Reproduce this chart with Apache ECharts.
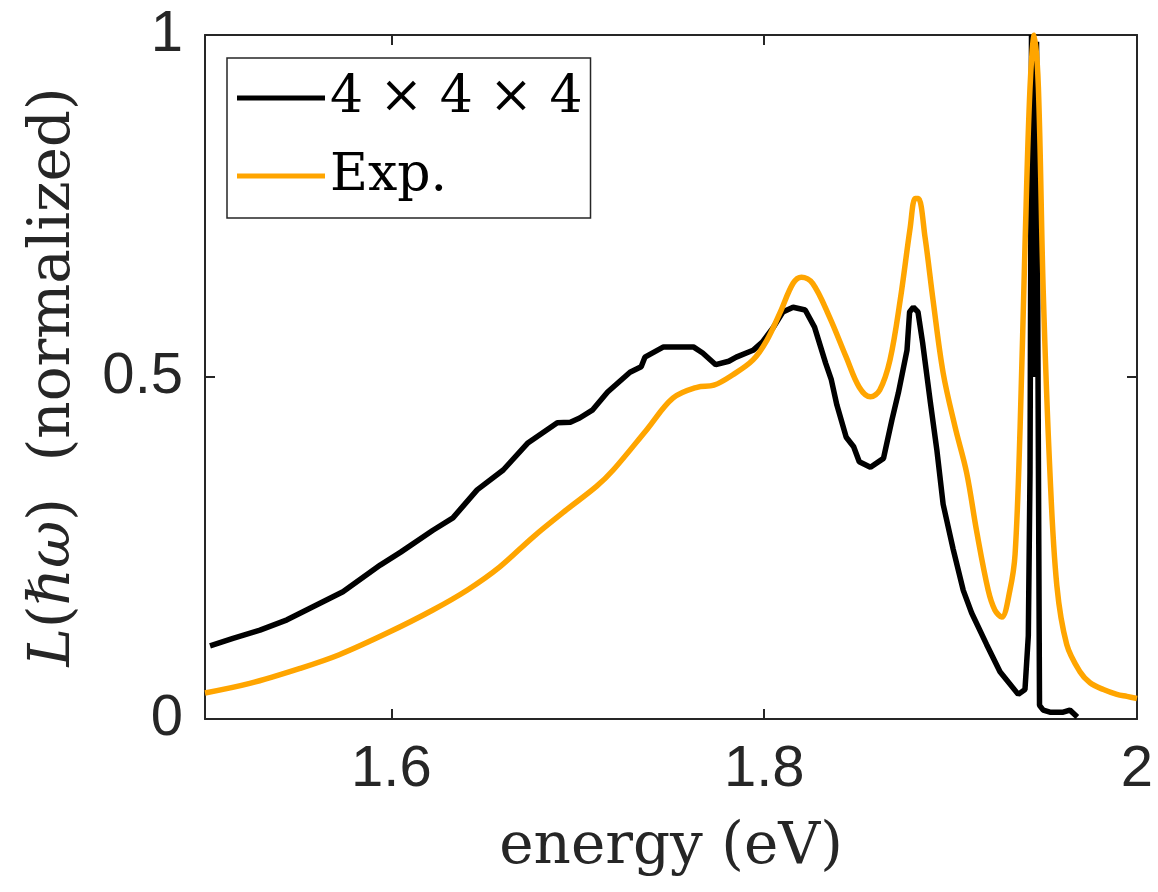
<!DOCTYPE html>
<html>
<head>
<meta charset="utf-8">
<script src="https://cdn.jsdelivr.net/npm/echarts@6/dist/echarts.min.js"></script>
<style>
  html, body { margin: 0; padding: 0; background: #fff; }
  #chart { width: 1158px; height: 892px; }
</style>
</head>
<body>
<div id="chart"></div>
<script>
// energy (eV) / normalized loss
var calcX = [1.5027, 1.515, 1.5295, 1.544, 1.574, 1.594, 1.605, 1.6223, 1.633, 1.646, 1.660, 1.673, 1.689, 1.696, 1.701,
  1.708, 1.716, 1.728, 1.734, 1.736, 1.746, 1.762, 1.767, 1.774, 1.781, 1.785, 1.794, 1.799, 1.805, 1.810, 1.8155,
  1.822, 1.827, 1.833, 1.836, 1.839, 1.844, 1.848, 1.851, 1.857, 1.864, 1.8685, 1.872, 1.8766, 1.878, 1.880, 1.8825,
  1.885, 1.889, 1.8926, 1.896, 1.9014, 1.9068, 1.9113, 1.9193, 1.9265, 1.9363, 1.9399, 1.9417, 1.9426, 1.9434,
  1.9447, 1.9461, 1.9477, 1.9497, 1.9533, 1.9604, 1.964, 1.968];
var calcY = [0.107, 0.118, 0.130, 0.145, 0.186, 0.225, 0.244, 0.276, 0.294, 0.335, 0.364, 0.403, 0.433, 0.434, 0.440,
  0.452, 0.478, 0.507, 0.515, 0.529, 0.544, 0.544, 0.535, 0.518, 0.523, 0.529, 0.539, 0.551, 0.573, 0.595, 0.602,
  0.598, 0.573, 0.520, 0.496, 0.459, 0.412, 0.398, 0.376, 0.368, 0.381, 0.437, 0.477, 0.539, 0.595, 0.602, 0.595,
  0.550, 0.466, 0.394, 0.314, 0.248, 0.188, 0.155, 0.109, 0.069, 0.036, 0.043, 0.122, 0.36, 1.0,
  0.5, 0.99, 0.02, 0.013, 0.010, 0.010, 0.013, 0.003];

var expX = [1.500, 1.524, 1.551, 1.572, 1.598, 1.622, 1.641, 1.658, 1.676, 1.694, 1.710, 1.719, 1.737, 1.751,
  1.764, 1.773, 1.783, 1.794, 1.8015, 1.8085, 1.8155, 1.820, 1.826, 1.835, 1.844, 1.851, 1.857, 1.862, 1.8675, 1.873,
  1.8783, 1.881, 1.8827, 1.8863, 1.8906, 1.896, 1.9024, 1.9086, 1.914, 1.9202, 1.9238, 1.9274, 1.9318, 1.9346,
  1.9373, 1.9399, 1.9426, 1.9449, 1.9471, 1.9497, 1.9533, 1.957, 1.9623, 1.9694, 1.9748, 1.982, 1.9892, 1.9946, 2.0];
var expY = [0.038, 0.052, 0.074, 0.094, 0.126, 0.159, 0.189, 0.222, 0.266, 0.306, 0.340, 0.364, 0.423, 0.469,
  0.485, 0.488, 0.503, 0.525, 0.554, 0.594, 0.637, 0.646, 0.637, 0.588, 0.529, 0.485, 0.471, 0.481, 0.525, 0.613,
  0.718, 0.761, 0.761, 0.704, 0.612, 0.506, 0.427, 0.360, 0.274, 0.188, 0.159, 0.149, 0.188, 0.241,
  0.427, 0.691, 0.923, 1.0, 0.923, 0.625, 0.36, 0.195, 0.109, 0.069, 0.053, 0.043, 0.036, 0.033, 0.030];

var xTicks = [1.6, 1.8, 2.0];
var yTicks = [0, 0.5, 1];
var seriesNames = ['4 × 4 × 4', 'Exp.'];

function zip(xs, ys) {
  return xs.map(function (x, i) { return [x, ys[i]]; });
}

var axisColor = '#262626';
var tickFont = { fontFamily: 'Liberation Sans', fontSize: 58, color: axisColor };
var serif = 'DejaVu Serif';

var myChart = echarts.init(document.getElementById('chart'));
myChart.setOption({
  backgroundColor: '#fff',
  animation: false,
  grid: { left: 205, right: 21, top: 35, bottom: 173 },
  legend: {
    left: 227, top: 58,
    orient: 'vertical',
    backgroundColor: '#fff',
    borderColor: axisColor, borderWidth: 1.5, borderRadius: 0,
    padding: [10, 8, 12, 10],
    icon: 'rect',
    itemWidth: 88, itemHeight: 5, itemGap: 18,
    textStyle: { fontFamily: serif, fontSize: 52, color: '#000', lineHeight: 60 },
    data: seriesNames
  },
  xAxis: [{
    type: 'value', min: 1.5, max: 2.0, position: 'bottom',
    name: 'energy (eV)', nameLocation: 'middle', nameGap: 100,
    nameTextStyle: { fontFamily: serif, fontSize: 58, color: axisColor },
    axisLine: { show: true, onZero: false, lineStyle: { color: axisColor, width: 2 } },
    axisTick: { show: true, inside: true, length: 10, customValues: xTicks, lineStyle: { color: axisColor, width: 2 } },
    axisLabel: Object.assign({ margin: 22, customValues: xTicks, formatter: function (v) { return String(+v.toFixed(1)); } }, tickFont),
    splitLine: { show: false }
  }, {
    type: 'value', min: 1.5, max: 2.0, position: 'top',
    axisLine: { show: true, onZero: false, lineStyle: { color: axisColor, width: 2 } },
    axisTick: { show: true, inside: true, length: 10, customValues: xTicks, lineStyle: { color: axisColor, width: 2 } },
    axisLabel: { show: false },
    splitLine: { show: false }
  }],
  yAxis: [{
    type: 'value', min: 0, max: 1, interval: 0.5, position: 'left',
    name: '{i|L}(ℏ{i|ω})  (normalized)', nameLocation: 'middle', nameGap: 122,
    nameTextStyle: {
      fontFamily: serif, fontSize: 58, color: axisColor,
      rich: { i: { fontFamily: serif, fontSize: 58, fontStyle: 'italic', color: axisColor } }
    },
    axisLine: { show: true, onZero: false, lineStyle: { color: axisColor, width: 2 } },
    axisTick: { show: true, inside: true, length: 10, customValues: yTicks, lineStyle: { color: axisColor, width: 2 } },
    axisLabel: Object.assign({ margin: 22, customValues: yTicks }, tickFont),
    splitLine: { show: false }
  }, {
    type: 'value', min: 0, max: 1, interval: 0.5, position: 'right',
    axisLine: { show: true, onZero: false, lineStyle: { color: axisColor, width: 2 } },
    axisTick: { show: true, inside: true, length: 10, customValues: yTicks, lineStyle: { color: axisColor, width: 2 } },
    axisLabel: { show: false },
    splitLine: { show: false }
  }],
  series: [{
    name: seriesNames[0], type: 'line', xAxisIndex: 0, yAxisIndex: 0,
    data: zip(calcX, calcY),
    symbol: 'none', smooth: false,
    lineStyle: { color: '#000', width: 5.5 },
    itemStyle: { color: '#000' }
  }, {
    name: seriesNames[1], type: 'line', xAxisIndex: 0, yAxisIndex: 0,
    data: zip(expX, expY),
    symbol: 'none', smooth: 0.35,
    lineStyle: { color: '#FFA500', width: 5.5 },
    itemStyle: { color: '#FFA500' }
  }]
});
</script>
</body>
</html>
